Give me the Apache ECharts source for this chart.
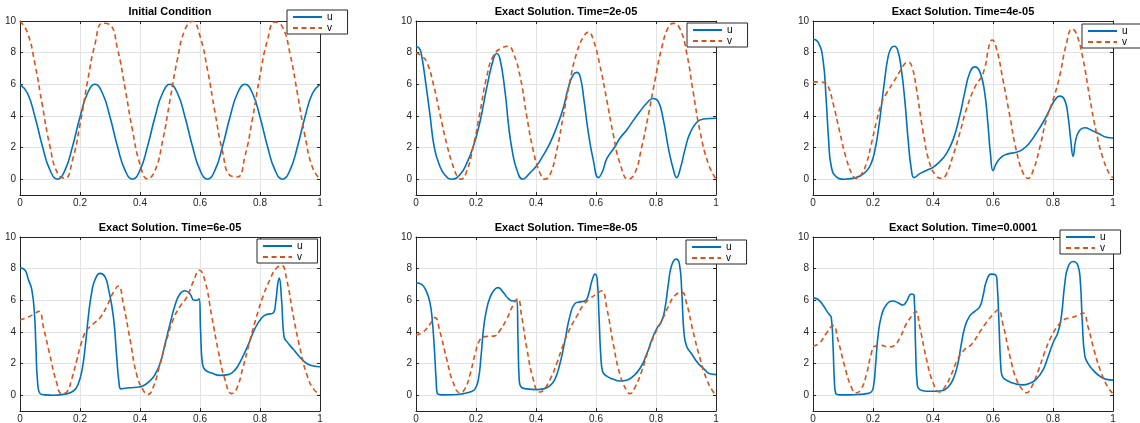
<!DOCTYPE html>
<html>
<head>
<meta charset="utf-8">
<title>u / v exact solution</title>
<script src="https://cdn.jsdelivr.net/npm/echarts@6.0.0/dist/echarts.min.js"></script>
<style>
  html, body { margin: 0; padding: 0; background: #ffffff; }
  #chart { width: 1140px; height: 423px; }
</style>
</head>
<body>
<div id="chart"></div>
<script>
// initial condition, sampled every 0.025
const xInit = [0,0.025,0.05,0.075,0.1,0.125,0.15,0.175,0.2,0.225,0.25,0.275,0.3,0.325,0.35,0.375,0.4,0.425,0.45,0.475,0.5,
  0.525,0.55,0.575,0.6,0.625,0.65,0.675,0.7,0.725,0.75,0.775,0.8,0.825,0.85,0.875,0.9,0.925,0.95,0.975,1];
const uInit = [6,5.43,3.93,2.07,0.57,0,0.57,2.07,3.93,5.43,
  6,5.43,3.93,2.07,0.57,0,0.57,2.07,3.93,5.43,
  6,5.43,3.93,2.07,0.57,0,0.57,2.07,3.93,5.43,
  6,5.43,3.93,2.07,0.57,0,0.57,2.07,3.93,5.43,6];
const vInit = [10,9.26,7.27,4.61,2.06,0.38,0.06,1.2,3.45,6.17,8.54,9.86,9.76,8.25,5.78,3.09,0.95,0.02,0.54,2.39,5,
  7.61,9.46,9.98,9.05,6.91,4.22,1.75,0.24,0.14,1.46,3.83,6.55,8.8,9.94,9.62,7.94,5.39,2.73,0.74,0];

// Time=2e-05, [x, value]
const u2e5 = [[0,8.4],[0.01,8.3],[0.017,8.0],[0.033,6.0],[0.047,4.0],[0.061,2.0],[0.078,0.9],[0.097,0.25],[0.12,0],[0.147,0.3],
  [0.169,1.0],[0.19,2.0],[0.213,3.6],[0.236,5.8],[0.258,7.6],[0.269,7.95],[0.28,7.6],[0.297,5.5],[0.308,3.5],[0.319,2.0],
  [0.336,0.6],[0.356,0],[0.38,0.4],[0.402,0.85],[0.424,1.5],[0.447,2.3],[0.469,3.3],[0.491,4.5],[0.508,5.8],[0.524,6.6],
  [0.536,6.75],[0.547,6.5],[0.56,5.0],[0.574,3.0],[0.591,1.2],[0.608,0.1],[0.622,0.5],[0.636,1.3],[0.663,2.05],[0.68,2.6],
  [0.702,3.1],[0.724,3.7],[0.747,4.3],[0.769,4.8],[0.791,5.1],[0.808,4.9],[0.824,3.8],[0.841,2.0],[0.858,0.6],[0.869,0.1],
  [0.88,0.6],[0.897,1.9],[0.913,2.9],[0.936,3.6],[0.958,3.8],[1,3.85]];
const v2e5 = [[0,8.0],[0.018,7.8],[0.036,7.4],[0.058,6.0],[0.08,4.1],[0.102,2.25],[0.124,0.8],[0.14,0.1],[0.15,0],[0.169,0.5],
  [0.19,2.0],[0.213,4.2],[0.236,6.5],[0.258,7.8],[0.286,8.3],[0.308,8.4],[0.324,8.0],[0.347,6.5],[0.369,4.0],[0.391,1.8],
  [0.413,0.4],[0.43,0],[0.447,0.3],[0.469,1.8],[0.491,4.0],[0.513,6.2],[0.536,8.0],[0.558,9.0],[0.575,9.3],[0.591,8.8],
  [0.613,7.2],[0.636,5.0],[0.658,2.8],[0.68,1.0],[0.708,0],[0.73,0.4],[0.752,2.0],[0.774,4.0],[0.797,6.3],[0.819,8.3],
  [0.841,9.6],[0.858,9.85],[0.88,9.5],[0.902,8.0],[0.924,5.5],[0.947,3.0],[0.974,1.0],[1,0]];

// Time=4e-05
const u4e5 = [[0,8.85],[0.017,8.67],[0.033,7.6],[0.044,5.0],[0.052,2.5],[0.061,0.8],[0.078,0.15],[0.106,0],[0.133,0.05],
  [0.156,0.2],[0.178,0.5],[0.194,1.0],[0.206,1.8],[0.217,3.0],[0.228,4.6],[0.239,6.3],[0.25,7.7],[0.261,8.3],[0.272,8.4],
  [0.283,8.1],[0.294,7.0],[0.306,5.0],[0.317,2.5],[0.328,0.6],[0.337,0.1],[0.356,0.35],[0.378,0.55],[0.4,0.75],[0.422,1.1],
  [0.444,1.6],[0.467,2.5],[0.489,4.0],[0.506,5.5],[0.522,6.7],[0.539,7.1],[0.556,6.8],[0.572,5.5],[0.583,3.5],[0.592,1.5],
  [0.6,0.55],[0.611,1.0],[0.628,1.4],[0.65,1.6],[0.678,1.7],[0.7,1.9],[0.722,2.3],[0.744,2.9],[0.767,3.6],[0.789,4.4],
  [0.806,5.0],[0.822,5.25],[0.839,5.0],[0.85,4.0],[0.859,2.5],[0.867,1.45],[0.876,2.5],[0.889,3.1],[0.906,3.25],[0.928,3.1],
  [0.95,2.9],[0.978,2.65],[1,2.6]];
const v4e5 = [[0,6.15],[0.02,6.15],[0.039,6.1],[0.05,5.9],[0.067,4.8],[0.089,3.0],[0.111,1.3],[0.133,0.2],[0.144,0.05],
  [0.161,0.3],[0.178,1.0],[0.194,2.2],[0.211,3.6],[0.228,4.8],[0.244,5.4],[0.267,6.1],[0.289,6.8],[0.306,7.3],[0.317,7.4],
  [0.33,7.1],[0.344,5.8],[0.367,3.0],[0.389,1.0],[0.411,0.2],[0.428,0.05],[0.444,0.3],[0.467,1.5],[0.489,2.9],[0.511,4.4],
  [0.539,5.8],[0.567,6.7],[0.589,8.6],[0.597,8.8],[0.611,8.3],[0.633,6.3],[0.656,4.0],[0.678,1.8],[0.7,0.4],[0.717,0.05],
  [0.733,0.5],[0.756,2.0],[0.778,3.8],[0.8,5.0],[0.822,6.5],[0.844,8.5],[0.864,9.5],[0.878,9.2],[0.9,7.6],[0.922,5.2],
  [0.944,3.0],[0.967,1.3],[0.989,0.3],[1,0.1]];

// Time=6e-05
const u6e5 = [[0,8.05],[0.017,7.9],[0.028,7.3],[0.039,6.7],[0.048,5.2],[0.053,3.1],[0.058,1.0],[0.067,0.1],[0.083,0.02],
  [0.111,0],[0.144,0.05],[0.167,0.15],[0.183,0.35],[0.194,0.7],[0.206,1.5],[0.217,3.0],[0.228,5.0],[0.239,6.5],[0.25,7.3],
  [0.267,7.7],[0.283,7.5],[0.294,6.8],[0.311,5.0],[0.322,2.5],[0.33,0.8],[0.336,0.4],[0.356,0.45],[0.389,0.5],[0.411,0.6],
  [0.433,0.9],[0.45,1.3],[0.467,2.0],[0.483,3.2],[0.5,4.5],[0.517,5.7],[0.533,6.4],[0.55,6.6],[0.567,6.4],[0.58,6.0],
  [0.591,6.0],[0.597,6.1],[0.602,4.0],[0.608,2.0],[0.617,1.6],[0.639,1.4],[0.667,1.25],[0.694,1.3],[0.717,1.6],[0.739,2.3],
  [0.761,3.2],[0.783,4.2],[0.806,4.9],[0.822,5.1],[0.844,5.2],[0.853,6.0],[0.859,7.0],[0.864,7.4],[0.872,6.0],[0.88,3.7],
  [0.889,3.4],[0.911,2.9],[0.933,2.4],[0.956,2.0],[0.978,1.85],[1,1.8]];
const v6e5 = [[0,4.75],[0.022,4.9],[0.044,5.1],[0.063,5.3],[0.078,4.3],[0.1,2.5],[0.122,0.8],[0.139,0.1],[0.156,0.2],
  [0.172,1.0],[0.189,2.2],[0.206,3.4],[0.222,4.1],[0.244,4.5],[0.267,4.9],[0.289,5.6],[0.311,6.5],[0.328,6.9],[0.344,5.8],
  [0.367,3.5],[0.389,1.3],[0.411,0.3],[0.426,0.05],[0.444,0.5],[0.467,2.0],[0.489,3.5],[0.511,4.8],[0.533,5.6],[0.556,6.2],
  [0.578,7.2],[0.598,7.9],[0.617,7.2],[0.639,5.0],[0.661,2.8],[0.683,1.0],[0.706,0.1],[0.722,0.4],[0.744,1.8],[0.767,3.5],
  [0.789,5.0],[0.811,6.3],[0.833,7.3],[0.853,8.0],[0.872,8.2],[0.889,7.3],[0.911,5.0],[0.933,3.0],[0.956,1.3],[0.978,0.4],
  [1,0.05]];

// Time=8e-05
const u8e5 = [[0,7.1],[0.019,7.0],[0.036,6.5],[0.047,5.8],[0.054,4.8],[0.061,3.0],[0.067,1.0],[0.071,0.1],[0.086,0.02],
  [0.124,0.03],[0.158,0.1],[0.18,0.2],[0.197,0.4],[0.208,1.0],[0.217,2.5],[0.224,4.0],[0.233,5.2],[0.247,6.2],[0.263,6.7],
  [0.274,6.8],[0.291,6.5],[0.308,6.1],[0.324,5.95],[0.336,6.0],[0.34,3.5],[0.344,1.0],[0.349,0.55],[0.369,0.4],[0.402,0.35],
  [0.424,0.4],[0.447,0.6],[0.463,1.0],[0.48,2.0],[0.497,3.5],[0.513,5.0],[0.53,5.8],[0.547,5.9],[0.563,5.95],[0.574,6.3],
  [0.586,7.2],[0.597,7.65],[0.604,7.3],[0.61,5.0],[0.616,2.5],[0.622,1.5],[0.636,1.2],[0.658,1.0],[0.68,0.9],[0.702,0.95],
  [0.724,1.2],[0.747,1.7],[0.769,2.6],[0.786,3.5],[0.802,4.2],[0.819,4.7],[0.83,5.5],[0.841,7.0],[0.852,8.2],[0.867,8.6],
  [0.878,8.3],[0.886,6.5],[0.893,4.0],[0.902,3.1],[0.919,2.6],[0.941,2.0],[0.963,1.6],[0.98,1.35],[1,1.3]];
const v8e5 = [[0,3.8],[0.024,4.0],[0.047,4.5],[0.063,4.9],[0.08,4.0],[0.102,2.3],[0.124,0.8],[0.147,0.15],[0.163,0.4],
  [0.18,1.3],[0.197,2.6],[0.213,3.5],[0.23,3.7],[0.263,3.75],[0.28,4.1],[0.302,4.8],[0.324,5.7],[0.339,6.1],[0.352,5.0],
  [0.369,3.0],[0.391,1.0],[0.411,0.2],[0.424,0.3],[0.447,1.0],[0.469,2.0],[0.491,3.2],[0.513,4.2],[0.536,5.0],[0.558,5.7],
  [0.58,6.1],[0.602,6.4],[0.619,6.6],[0.636,5.5],[0.658,3.2],[0.68,1.3],[0.702,0.3],[0.713,0.1],[0.73,0.5],[0.752,1.5],
  [0.774,2.8],[0.797,3.9],[0.819,4.7],[0.841,5.6],[0.863,6.3],[0.886,6.5],[0.902,5.8],[0.924,4.0],[0.947,2.3],[0.969,1.0],
  [0.991,0.2],[1,0.05]];

// Time=0.0001
const u1e4 = [[0,6.15],[0.017,6.05],[0.033,5.7],[0.05,5.2],[0.061,4.9],[0.067,3.0],[0.071,1.0],[0.076,0.1],[0.089,0.02],
  [0.122,0.02],[0.156,0.05],[0.178,0.1],[0.194,0.2],[0.202,0.6],[0.209,2.0],[0.217,3.8],[0.228,5.0],[0.244,5.7],[0.267,5.95],
  [0.283,5.85],[0.3,5.7],[0.311,5.9],[0.328,6.4],[0.337,6.3],[0.342,3.0],[0.348,0.6],[0.356,0.35],[0.378,0.25],[0.411,0.25],
  [0.433,0.3],[0.45,0.5],[0.467,1.0],[0.483,2.0],[0.494,3.2],[0.506,4.3],[0.522,5.0],[0.539,5.3],[0.556,5.6],[0.567,6.3],
  [0.578,7.2],[0.594,7.65],[0.609,7.6],[0.614,7.0],[0.62,4.5],[0.626,1.8],[0.631,1.2],[0.65,0.9],[0.678,0.7],[0.7,0.65],
  [0.722,0.75],[0.744,1.0],[0.767,1.6],[0.783,2.4],[0.8,3.3],[0.817,4.0],[0.828,5.0],[0.839,7.0],[0.85,8.1],[0.867,8.45],
  [0.883,8.2],[0.891,7.2],[0.898,4.5],[0.906,2.5],[0.917,2.0],[0.933,1.6],[0.956,1.2],[0.978,1.0],[1,0.95]];
const v1e4 = [[0,3.1],[0.022,3.3],[0.044,3.9],[0.067,4.4],[0.083,3.5],[0.106,1.8],[0.128,0.5],[0.144,0.15],[0.161,0.4],
  [0.178,1.3],[0.194,2.6],[0.206,3.1],[0.228,3.15],[0.25,3.05],[0.267,3.1],[0.289,3.6],[0.311,4.5],[0.333,5.1],[0.342,5.3],
  [0.356,4.3],[0.378,2.3],[0.4,0.8],[0.422,0.2],[0.439,0.5],[0.461,1.3],[0.483,2.3],[0.506,2.9],[0.528,3.2],[0.556,4.0],
  [0.578,4.6],[0.6,5.1],[0.617,5.4],[0.633,4.5],[0.656,2.5],[0.678,1.0],[0.7,0.3],[0.711,0.15],[0.728,0.5],[0.75,1.5],
  [0.772,2.7],[0.794,3.7],[0.817,4.4],[0.839,4.8],[0.861,4.9],[0.883,5.05],[0.9,5.2],[0.917,4.3],[0.939,2.7],[0.961,1.4],
  [0.983,0.5],[1,0.1]];

const titles = ['Initial Condition', 'Exact Solution. Time=2e-05', 'Exact Solution. Time=4e-05',
  'Exact Solution. Time=6e-05', 'Exact Solution. Time=8e-05', 'Exact Solution. Time=0.0001'];
const yTicks = [0, 2, 4, 6, 8, 10];

const uData = [xInit.map((x, i) => [x, uInit[i]]), u2e5, u4e5, u6e5, u8e5, u1e4];
const vData = [xInit.map((x, i) => [x, vInit[i]]), v2e5, v4e5, v6e5, v8e5, v1e4];

// layout of the six panels (plot box is 300 x 174)
const gridPos = [[20, 21], [416, 21], [813, 21], [20, 237], [416, 237], [813, 237]];
const legendPos = [[287, 10], [687, 23], [1082, 24], [257, 239], [686, 240], [1060, 230]];

const axisColor = '#262626';
const font = '"Liberation Sans", Arial, Helvetica, sans-serif';

const chart = echarts.init(document.getElementById('chart'));

let grids = [], xAxes = [], yAxes = [], series = [], legends = [];
for (let i = 0; i < 6; i++) {
    grids.push({
        left: gridPos[i][0], top: gridPos[i][1], width: 300, height: 174,
        containLabel: false, outerBoundsMode: 'none'
    });
    // bottom axis with labels and grid lines
    xAxes.push({
        gridIndex: i, type: 'value', position: 'bottom', min: 0, max: 1, interval: 0.2,
        axisLine: { onZero: false, lineStyle: { color: axisColor, width: 1 } },
        axisTick: { inside: true, length: 3, lineStyle: { color: axisColor } },
        axisLabel: { color: axisColor, fontSize: 10, fontFamily: font, margin: 3 },
        splitLine: { show: true, lineStyle: { color: '#e3e3e3', width: 1 } }
    });
    // top axis: box edge + title
    xAxes.push({
        gridIndex: i, type: 'value', position: 'top', min: 0, max: 1, interval: 0.2,
        name: titles[i], nameLocation: 'middle', nameGap: 4,
        nameTextStyle: { color: '#000', fontSize: 11, fontWeight: 'bold', fontFamily: font },
        axisLine: { onZero: false, lineStyle: { color: axisColor, width: 1 } },
        axisTick: { inside: true, length: 3, lineStyle: { color: axisColor } },
        axisLabel: { show: false },
        splitLine: { show: false }
    });
    yAxes.push({
        gridIndex: i, type: 'value', position: 'left', min: -1, max: 10,
        axisLine: { show: true, onZero: false, lineStyle: { color: axisColor, width: 1 } },
        axisTick: { show: true, inside: true, length: 3, customValues: yTicks, lineStyle: { color: axisColor } },
        axisLabel: { color: axisColor, fontSize: 10, fontFamily: font, margin: 4, customValues: yTicks },
        splitLine: { show: true, lineStyle: { color: '#e3e3e3', width: 1 } }
    });
    yAxes.push({
        gridIndex: i, type: 'value', position: 'right', min: -1, max: 10,
        axisLine: { show: true, onZero: false, lineStyle: { color: axisColor, width: 1 } },
        axisTick: { show: true, inside: true, length: 3, customValues: yTicks, lineStyle: { color: axisColor } },
        axisLabel: { show: false },
        splitLine: { show: false }
    });
    series.push({
        name: 'u', type: 'line', xAxisIndex: 2 * i, yAxisIndex: 2 * i,
        data: uData[i], symbol: 'none', smooth: 0.5,
        lineStyle: { color: '#0072BD', width: 1.6 }, itemStyle: { color: '#0072BD' }
    });
    series.push({
        name: 'v', type: 'line', xAxisIndex: 2 * i, yAxisIndex: 2 * i,
        data: vData[i], symbol: 'none', smooth: 0.5,
        lineStyle: { color: '#D95319', width: 1.6, type: [5, 3.5] }, itemStyle: { color: '#D95319' }
    });
    legends.push({
        data: ['u', 'v'], orient: 'vertical', left: legendPos[i][0], top: legendPos[i][1],
        itemWidth: 29, itemHeight: 8, itemGap: 1, padding: [2, 15, 1, 5],
        backgroundColor: '#fff', borderColor: axisColor, borderWidth: 1,
        selectedMode: false,
        // hide the marker the line icon carries in its middle
        itemStyle: { color: 'rgba(0,0,0,0)', borderWidth: 0, opacity: 0 },
        textStyle: { color: '#000', fontSize: 10, lineHeight: 10, fontFamily: font }
    });
}

chart.setOption({
    animation: false,
    backgroundColor: '#fff',
    grid: grids,
    xAxis: xAxes,
    yAxis: yAxes,
    legend: legends,
    series: series
});
</script>
</body>
</html>
